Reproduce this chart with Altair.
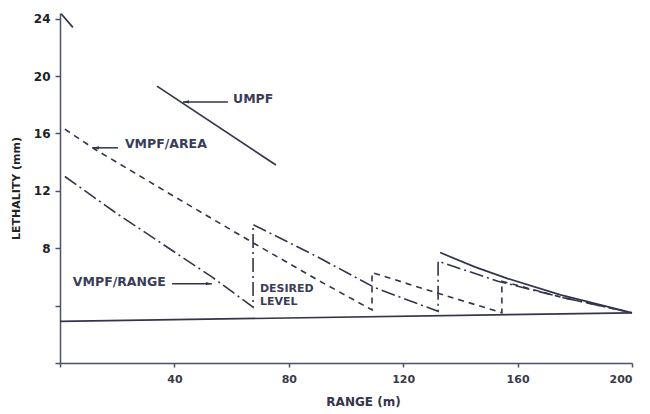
import altair as alt
import pandas as pd

# ---- data ----
umpf1_x = [0.4, 4.5]
umpf1_y = [24.35, 23.4]
umpf2_x = [33.9, 75.5]
umpf2_y = [19.3, 13.8]
umpf3_x = [132.9, 145.0, 156.3, 175.0, 190.0, 200.0]
umpf3_y = [7.7, 6.7, 5.9, 4.75, 4.0, 3.5]

area_x = [1.7, 12.2, 40.0, 68.2, 90.0, 109.1, 109.1, 130.0, 154.5, 154.5, 175.0, 200.0]
area_y = [16.3, 14.9, 11.6, 8.3, 5.8, 3.7, 6.3, 5.0, 3.5, 5.7, 4.6, 3.5]

range_x = [1.7, 20.0, 53.1, 67.5, 67.5, 90.0, 110.1, 132.2, 132.2, 153.1, 175.0, 200.0]
range_y = [13.0, 10.4, 6.0, 3.9, 9.65, 7.4, 5.25, 3.6, 7.1, 5.7, 4.6, 3.5]

desired_x = [0, 200]
desired_y = [2.9, 3.5]

label_text = ["UMPF", "VMPF/AREA", "VMPF/RANGE", "DESIRED", "LEVEL"]
label_x = [60.5, 22.7, 4.5, 69.9, 69.9]
label_y = [18.4, 15.25, 5.67, 5.18, 4.27]
label_size = [12.5, 12.5, 12.5, 11, 11]

arrow_x1 = [58.7, 20.3, 39.2]
arrow_x2 = [43.0, 11.5, 53.1]
arrow_y = [18.2, 15.0, 5.53]
arrow_dir = ["left", "left", "right"]

x_ticks = [0, 40, 80, 120, 160, 200]
y_ticks = [0, 4, 8, 12, 16, 20, 24]

INK = "#33354a"
AXIS = "#4c5070"
FONT = "DejaVu Sans"

def frame(xs, ys, seg):
    return pd.DataFrame({"x": xs, "y": ys, "seg": seg, "o": list(range(len(xs)))})

umpf = pd.concat([frame(umpf1_x, umpf1_y, "a"), frame(umpf2_x, umpf2_y, "b"), frame(umpf3_x, umpf3_y, "c")])
area = frame(area_x, area_y, "area")
rng = frame(range_x, range_y, "range")
desired = frame(desired_x, desired_y, "desired")
labels = pd.DataFrame({"t": label_text, "x": label_x, "y": label_y, "s": label_size})
arrows = pd.DataFrame({"x1": arrow_x1, "x2": arrow_x2, "y": arrow_y, "d": arrow_dir})

xs = alt.Scale(domain=[0, 200], nice=False, zero=False)
ys = alt.Scale(domain=[0, 24.4], nice=False, zero=False)

xax = alt.Axis(values=x_ticks, title="RANGE (m)", labelExpr="datum.value == 0 ? '' : datum.label",
               grid=False, domainColor=AXIS, tickColor=AXIS, domainWidth=1.5, tickWidth=1.5, tickSize=4,
               labelFont=FONT, labelFontSize=11, labelFontWeight="bold", labelColor="#3a3a48", labelPadding=6,
               titleFont=FONT, titleFontSize=12, titleFontWeight="bold", titleColor="#33354a", titlePadding=12,
               titleX=303, titleAlign="center")
yax = alt.Axis(values=y_ticks, title="LETHALITY (mm)", labelExpr="datum.value >= 8 ? datum.label : ''",
               grid=False, domainColor=AXIS, tickColor=AXIS, domainWidth=1.5, tickWidth=1.5, tickSize=5,
               labelFont=FONT, labelFontSize=12, labelFontWeight="bold", labelColor="#222", labelPadding=5,
               titleFont=FONT, titleFontSize=11, titleFontWeight="bold", titleColor="#222", titlePadding=12)

base_enc = dict(x=alt.X("x:Q", scale=xs, axis=xax), y=alt.Y("y:Q", scale=ys, axis=yax), order="o:Q")

l_umpf = alt.Chart(umpf).mark_line(color=INK, strokeWidth=1.7).encode(detail="seg:N", **base_enc)
l_area = alt.Chart(area).mark_line(color=INK, strokeWidth=1.6, strokeDash=[6, 5]).encode(**base_enc)
l_rng = alt.Chart(rng).mark_line(color=INK, strokeWidth=1.6, strokeDash=[14, 4, 2, 4]).encode(**base_enc)
l_des = alt.Chart(desired).mark_line(color=INK, strokeWidth=1.7).encode(**base_enc)

txt = alt.Chart(labels).mark_text(align="left", baseline="middle", font=FONT,
                                  fontWeight="bold", color="#3a3d5a").encode(
    x=alt.X("x:Q", scale=xs), y=alt.Y("y:Q", scale=ys), text="t:N",
    size=alt.Size("s:Q", scale=None, legend=None))

arr_line = alt.Chart(arrows).mark_rule(color=INK, strokeWidth=1.5).encode(
    x=alt.X("x1:Q", scale=xs), x2="x2:Q", y=alt.Y("y:Q", scale=ys))
head_l = alt.Chart(arrows).transform_filter("datum.d == 'left'").mark_point(
    shape="M0,0L2,-0.55L2,0.55Z", filled=True, size=36, color=INK, opacity=1).encode(
    x=alt.X("x2:Q", scale=xs), y=alt.Y("y:Q", scale=ys))
head_r = alt.Chart(arrows).transform_filter("datum.d == 'right'").mark_point(
    shape="M0,0L-2,-0.55L-2,0.55Z", filled=True, size=36, color=INK, opacity=1).encode(
    x=alt.X("x2:Q", scale=xs), y=alt.Y("y:Q", scale=ys))

chart = alt.layer(l_des, l_umpf, l_area, l_rng, arr_line, head_l, head_r, txt).properties(
    width=572, height=350,
    autosize=alt.AutoSizeParams(type="none"),
    padding={"left": 52, "top": 5, "right": 10, "bottom": 48},
    background="white",
).configure_view(stroke=None)

chart.save("out.html", embed_options={"renderer": "svg", "actions": False})
